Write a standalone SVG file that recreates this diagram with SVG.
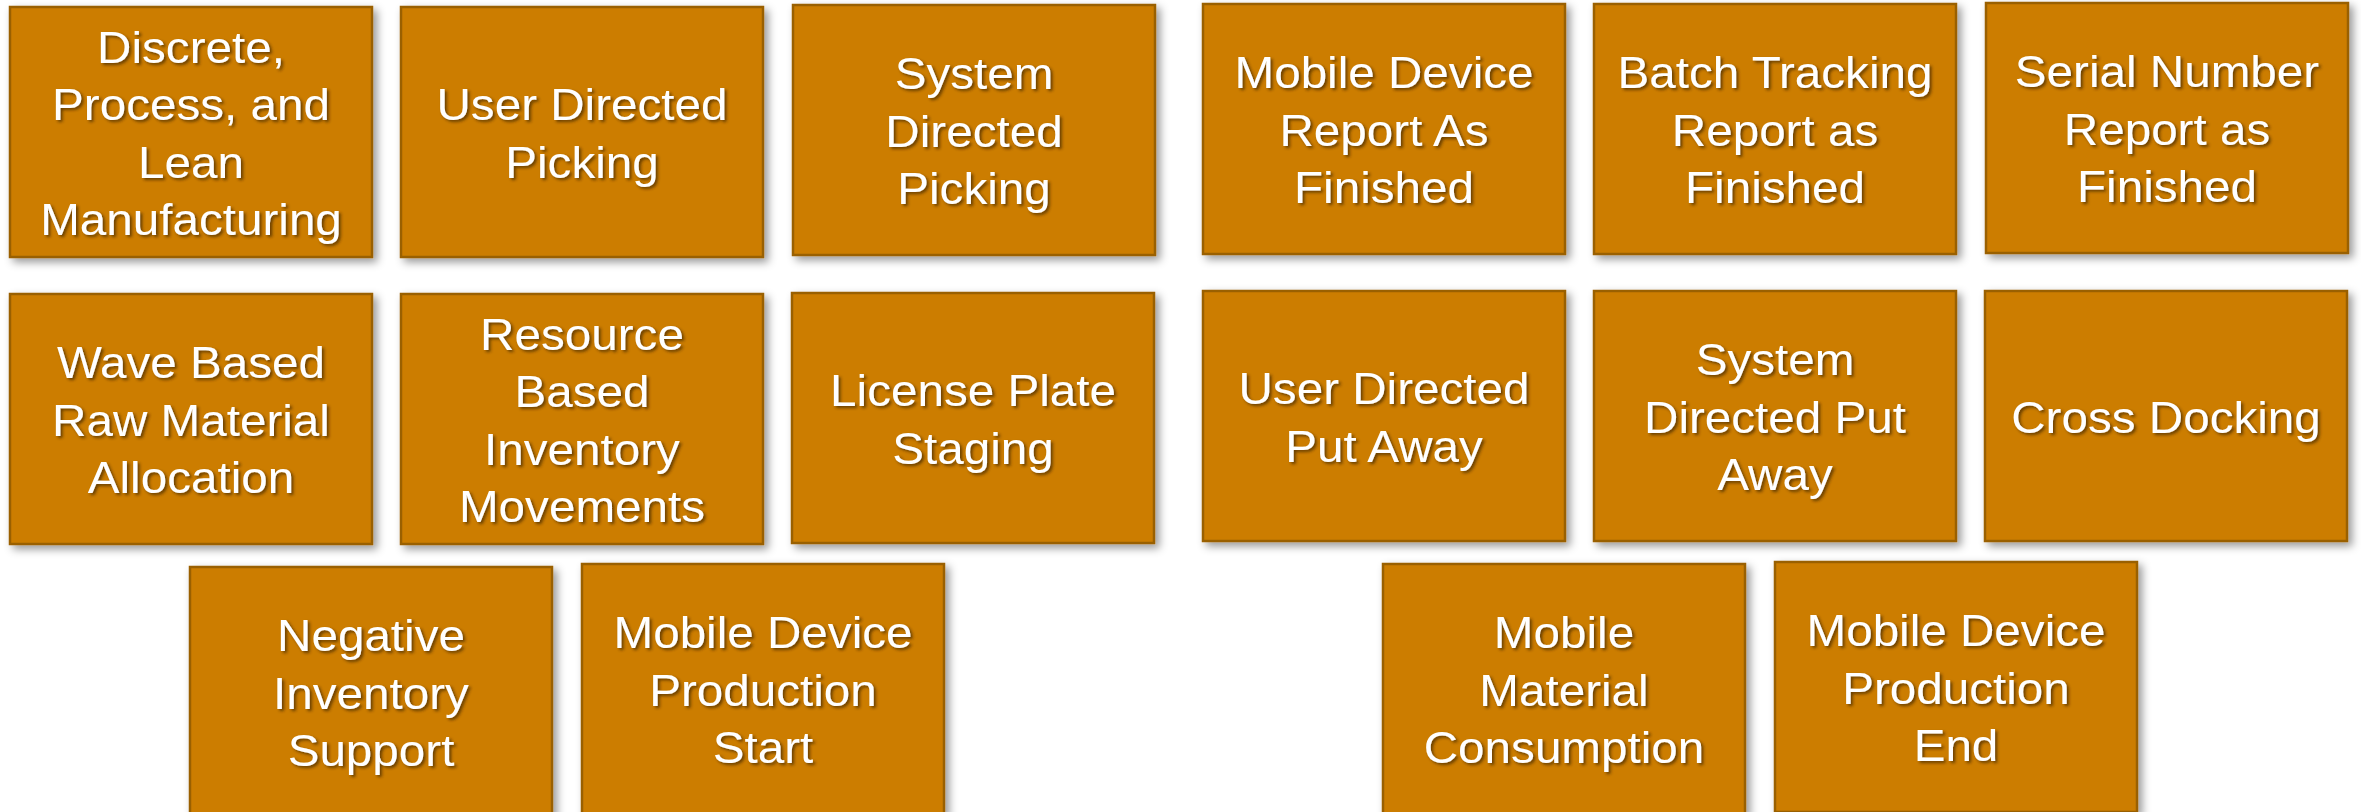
<svg xmlns="http://www.w3.org/2000/svg" width="2361" height="812" viewBox="0 0 2361 812">
<defs>
<filter id="boxShadow" x="-10%" y="-10%" width="125%" height="125%">
<feDropShadow dx="4" dy="4" stdDeviation="4" flood-color="#000" flood-opacity="0.4"/>
</filter>
<filter id="txtShadow" x="-10%" y="-20%" width="125%" height="150%">
<feDropShadow dx="2" dy="2" stdDeviation="1.5" flood-color="#3a2000" flood-opacity="0.7"/>
</filter>
</defs>
<style>
.box{fill:#CC7D00;stroke:#9A6000;stroke-width:2.5;filter:url(#boxShadow);}
.lbl{font-family:"Liberation Sans",Arial,sans-serif;font-size:44.5px;fill:#FFFFFF;text-anchor:middle;filter:url(#txtShadow);}
</style>
<rect width="2361" height="812" fill="#FFFFFF"/>
<g id="connectors"></g>

<g id="n1"><rect class="box" x="10" y="7" width="362" height="250"/>
<text class="lbl" transform="matrix(1.07 0 0 1 191 0)"><tspan x="0" y="62.75">Discrete,</tspan><tspan x="0" y="120.25">Process, and</tspan><tspan x="0" y="177.75">Lean</tspan><tspan x="0" y="235.25">Manufacturing</tspan></text></g>

<g id="n2"><rect class="box" x="401" y="7" width="362" height="250"/>
<text class="lbl" transform="matrix(1.07 0 0 1 582 0)"><tspan x="0" y="120.25">User Directed</tspan><tspan x="0" y="177.75">Picking</tspan></text></g>

<g id="n3"><rect class="box" x="793" y="5" width="362" height="250"/>
<text class="lbl" transform="matrix(1.07 0 0 1 974 0)"><tspan x="0" y="89.5">System</tspan><tspan x="0" y="147">Directed</tspan><tspan x="0" y="204.5">Picking</tspan></text></g>

<g id="n4"><rect class="box" x="1203" y="4" width="362" height="250"/>
<text class="lbl" transform="matrix(1.07 0 0 1 1384 0)"><tspan x="0" y="88.5">Mobile Device</tspan><tspan x="0" y="146">Report As</tspan><tspan x="0" y="203.5">Finished</tspan></text></g>

<g id="n5"><rect class="box" x="1594" y="4" width="362" height="250"/>
<text class="lbl" transform="matrix(1.07 0 0 1 1775 0)"><tspan x="0" y="88.5">Batch Tracking</tspan><tspan x="0" y="146">Report as</tspan><tspan x="0" y="203.5">Finished</tspan></text></g>

<g id="n6"><rect class="box" x="1986" y="3" width="362" height="250"/>
<text class="lbl" transform="matrix(1.07 0 0 1 2167 0)"><tspan x="0" y="87.5">Serial Number</tspan><tspan x="0" y="145">Report as</tspan><tspan x="0" y="202.5">Finished</tspan></text></g>

<g id="n7"><rect class="box" x="10" y="294" width="362" height="250"/>
<text class="lbl" transform="matrix(1.07 0 0 1 191 0)"><tspan x="0" y="378.5">Wave Based</tspan><tspan x="0" y="436">Raw Material</tspan><tspan x="0" y="493.5">Allocation</tspan></text></g>

<g id="n8"><rect class="box" x="401" y="294" width="362" height="250"/>
<text class="lbl" transform="matrix(1.07 0 0 1 582 0)"><tspan x="0" y="349.75">Resource</tspan><tspan x="0" y="407.25">Based</tspan><tspan x="0" y="464.75">Inventory</tspan><tspan x="0" y="522.25">Movements</tspan></text></g>

<g id="n9"><rect class="box" x="792" y="293" width="362" height="250"/>
<text class="lbl" transform="matrix(1.07 0 0 1 973 0)"><tspan x="0" y="406.25">License Plate</tspan><tspan x="0" y="463.75">Staging</tspan></text></g>

<g id="n10"><rect class="box" x="1203" y="291" width="362" height="250"/>
<text class="lbl" transform="matrix(1.07 0 0 1 1384 0)"><tspan x="0" y="404.25">User Directed</tspan><tspan x="0" y="461.75">Put Away</tspan></text></g>

<g id="n11"><rect class="box" x="1594" y="291" width="362" height="250"/>
<text class="lbl" transform="matrix(1.07 0 0 1 1775 0)"><tspan x="0" y="375.5">System</tspan><tspan x="0" y="433">Directed Put</tspan><tspan x="0" y="490.5">Away</tspan></text></g>

<g id="n12"><rect class="box" x="1985" y="291" width="362" height="250"/>
<text class="lbl" transform="matrix(1.07 0 0 1 2166 0)"><tspan x="0" y="433">Cross Docking</tspan></text></g>

<g id="n13"><rect class="box" x="190" y="567" width="362" height="250"/>
<text class="lbl" transform="matrix(1.07 0 0 1 371 0)"><tspan x="0" y="651.5">Negative</tspan><tspan x="0" y="709">Inventory</tspan><tspan x="0" y="766.5">Support</tspan></text></g>

<g id="n14"><rect class="box" x="582" y="564" width="362" height="250"/>
<text class="lbl" transform="matrix(1.07 0 0 1 763 0)"><tspan x="0" y="648.5">Mobile Device</tspan><tspan x="0" y="706">Production</tspan><tspan x="0" y="763.5">Start</tspan></text></g>

<g id="n15"><rect class="box" x="1383" y="564" width="362" height="250"/>
<text class="lbl" transform="matrix(1.07 0 0 1 1564 0)"><tspan x="0" y="648.5">Mobile</tspan><tspan x="0" y="706">Material</tspan><tspan x="0" y="763.5">Consumption</tspan></text></g>

<g id="n16"><rect class="box" x="1775" y="562" width="362" height="250"/>
<text class="lbl" transform="matrix(1.07 0 0 1 1956 0)"><tspan x="0" y="646.5">Mobile Device</tspan><tspan x="0" y="704">Production</tspan><tspan x="0" y="761.5">End</tspan></text></g>
</svg>
